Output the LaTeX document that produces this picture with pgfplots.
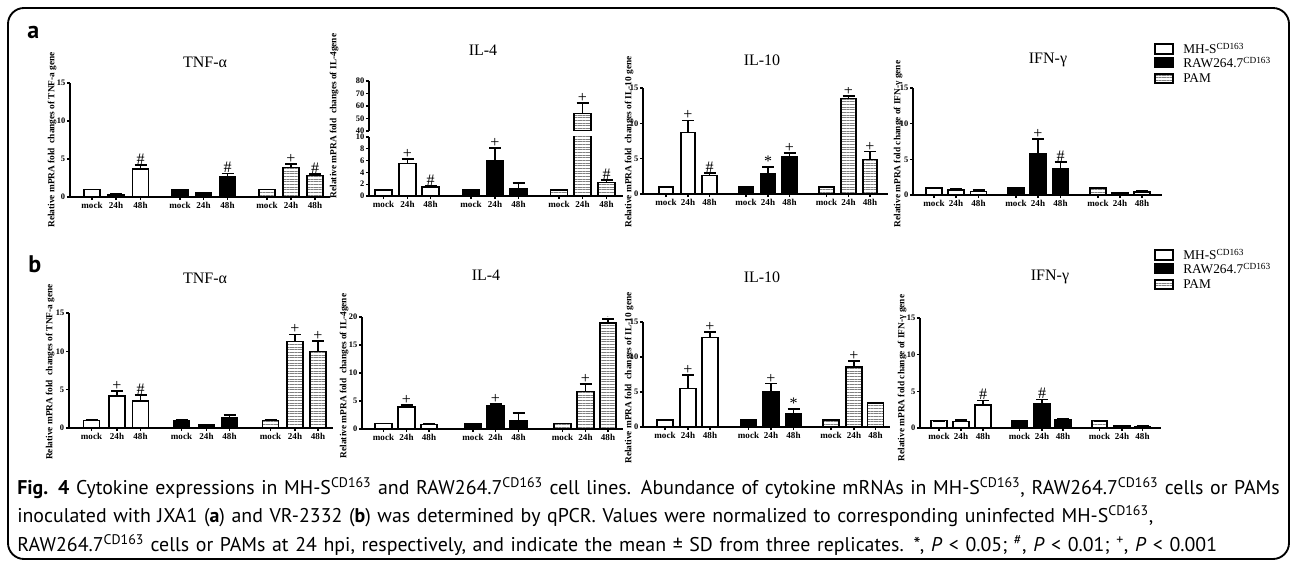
\documentclass[border=0pt]{standalone}
\usepackage{fontspec}
\setmainfont{Liberation Serif}
\newfontfamily\capfont{PT Sans}
\usepackage{pgfplots}
\pgfplotsset{compat=1.18}
\usetikzlibrary{patterns.meta}

% one pixel of the reference = 0.75pt
\pgfplotsset{
  place/.style 2 args={at={({#1*0.75pt},{(563-#2)*0.75pt})}, anchor=south west},
  cell/.style={
    scale only axis, enlargelimits=false, xmin=0, ymin=0,
    axis x line*=bottom, axis y line*=left,
    axis line style={line width=1.1pt, -},
    tick align=outside, major tick length=2.4pt,
    tick style={line width=0.9pt, black},
    clip marker paths=true,
    xticklabels={mock,24h,48h,mock,24h,48h,mock,24h,48h},
    xticklabel style={font=\bfseries\fontsize{6.8}{7}\selectfont, inner sep=1pt},
    yticklabel style={font=\bfseries\fontsize{6.3}{7}\selectfont, inner sep=1pt},
    /pgf/number format/assume math mode=true,
  },
  bar/.style={ybar, bar shift=0pt, draw=black, line width=1.2pt,
    error bars/y dir=plus, error bars/y explicit,
    error bars/error mark=|,
    error bars/error bar style={line width=1.3pt, black, solid},
    error bars/error mark options={line width=1.3pt, black, mark size=4.5pt}},
  mh/.style={fill=white, bar},
  raw/.style={fill=black, bar},
  pam/.style={pattern={Lines[angle=0,distance=2pt,line width=0.55pt]}, pattern color=gray, bar},
  ann/.style={draw=none, mark=none, nodes near coords={#1}, nodes near coords align=above,
    every node near coord/.append style={font=\fontsize{12}{12}\selectfont, inner sep=0.2pt, text=black}},
}

\begin{document}
\begin{tikzpicture}
\useasboundingbox (0,0) rectangle (969.75pt,422.25pt);

% ---------------- panel a ----------------
\begin{axis}[cell, place={70}{197}, width=195pt, height=85.5pt, xmax=260, ymax=15,
  ytick={0,5,10,15}, xtick={22,46,70.5,110,133.5,157.5,197,221,245}, bar width=16]
\addplot[mh]  coordinates {(22,1) +- (0,0) (46,0.3) +- (0,0.05) (70.5,3.65) +- (0,0.6)};
\addplot[raw] coordinates {(110,1) +- (0,0) (133.5,0.5) +- (0,0.05) (157.5,2.6) +- (0,0.5)};
\addplot[pam] coordinates {(197,1) +- (0,0) (221,3.9) +- (0,0.45) (245,2.85) +- (0,0.2)};
\addplot[ann=\#] coordinates {(70.5,4.25) (157.5,3.1) (245,3.05)};
\addplot[ann=+] coordinates {(221,4.35)};
\end{axis}

% IL-4 with a broken y axis: 0-10 below, 40-80 above
\begin{axis}[cell, place={369}{196}, width=190.5pt, height=44.25pt, xmax=254, ymax=10,
  ytick={0,2,4,6,8,10}, xtick={14.5,38.5,61.5,102,126,149.5,190,213.5,237.5}, bar width=17]
\addplot[mh]  coordinates {(14.5,1) +- (0,0) (38.5,5.5) +- (0,0.8) (61.5,1.5) +- (0,0.2)};
\addplot[raw] coordinates {(102,1) +- (0,0) (126,5.9) +- (0,2.2) (149.5,1.25) +- (0,0.9)};
\addplot[pam] coordinates {(190,1) +- (0,0) (213.5,54.1) (237.5,2.3) +- (0,0.45)};
\addplot[ann=+] coordinates {(38.5,6.3) (126,8.1)};
\addplot[ann=\#] coordinates {(61.5,1.7) (237.5,2.75)};
\end{axis}
\begin{axis}[cell, place={369}{131}, width=190.5pt, height=37.5pt, xmax=254, ymin=40, ymax=80,
  axis x line=none, ytick={40,50,60,70,80}, xtick=\empty, bar width=17]
\addplot[pam] coordinates {(213.5,54.1) +- (0,8.1)};
\addplot[ann=+] coordinates {(213.5,62.2)};
\end{axis}

\begin{axis}[cell, place={643}{194}, width=183.75pt, height=79.5pt, xmax=245, ymax=15,
  ytick={0,5,10,15}, xtick={23,45,66.5,103,125,146.5,183.5,205.5,227}, bar width=14.5]
\addplot[mh]  coordinates {(23,1) +- (0,0) (45,8.7) +- (0,1.7) (66.5,2.6) +- (0,0.4)};
\addplot[raw] coordinates {(103,1) +- (0,0) (125,2.85) +- (0,0.95) (146.5,5.2) +- (0,0.6)};
\addplot[pam] coordinates {(183.5,1) +- (0,0) (205.5,13.5) +- (0,0.4) (227,4.9) +- (0,1.1)};
\addplot[ann=+] coordinates {(45,10.4) (146.5,5.8) (205.5,13.9) (227,6.0)};
\addplot[ann=\#] coordinates {(66.5,3.0)};
\addplot[ann=*] coordinates {(125,3.8)};
\end{axis}

\begin{axis}[cell, place={913}{195}, width=186.75pt, height=80.25pt, xmax=249, ymax=15,
  ytick={0,5,10,15}, xtick={21,43,65.5,103,125,147.5,185,207,229}, bar width=16]
\addplot[mh]  coordinates {(21,1) +- (0,0) (43,0.7) +- (0,0.1) (65.5,0.5) +- (0,0.15)};
\addplot[raw] coordinates {(103,1) +- (0,0) (125,5.8) +- (0,2.0) (147.5,3.7) +- (0,0.95)};
\addplot[pam] coordinates {(185,1) +- (0,0) (207,0.25) +- (0,0.05) (229,0.45) +- (0,0.1)};
\addplot[ann=+] coordinates {(125,7.8)};
\addplot[ann=\#] coordinates {(147.5,4.65)};
\end{axis}

% ---------------- panel b ----------------
\begin{axis}[cell, place={69}{428}, width=198pt, height=86.25pt, xmax=264, ymax=15,
  ytick={0,5,10,15}, xtick={22.5,48,71.5,112.5,137.5,160.5,201.5,226,249}, bar width=16]
\addplot[mh]  coordinates {(22.5,1) +- (0,0) (48,4.2) +- (0,0.65) (71.5,3.5) +- (0,0.85)};
\addplot[raw] coordinates {(112.5,1) +- (0,0) (137.5,0.4) +- (0,0.05) (160.5,1.3) +- (0,0.35)};
\addplot[pam] coordinates {(201.5,1) +- (0,0) (226,11.3) +- (0,0.9) (249,10.0) +- (0,1.3)};
\addplot[ann=+] coordinates {(48,4.85) (226,12.2) (249,11.3)};
\addplot[ann=\#] coordinates {(71.5,4.35)};
\end{axis}

\begin{axis}[cell, place={362}{429}, width=195.75pt, height=84pt, xmax=261, ymax=20,
  ytick={0,5,10,15,20}, xtick={21.5,44.5,67,111,133.5,156.5,200.5,223.5,246}, bar width=16.5]
\addplot[mh]  coordinates {(21.5,1) +- (0,0) (44.5,3.9) +- (0,0.4) (67,0.8) +- (0,0.2)};
\addplot[raw] coordinates {(111,1) +- (0,0) (133.5,4.1) +- (0,0.4) (156.5,1.5) +- (0,1.3)};
\addplot[pam] coordinates {(200.5,1) +- (0,0) (223.5,6.7) +- (0,1.4) (246,18.9) +- (0,0.8)};
\addplot[ann=+] coordinates {(44.5,4.3) (133.5,4.5) (223.5,8.1) (246,19.7)};
\end{axis}

\begin{axis}[cell, place={643}{427}, width=185.25pt, height=78.75pt, xmax=247, ymax=15,
  ytick={0,5,10,15}, xtick={22,45,67,105.5,128,150.5,188,211,232.5}, bar width=16]
\addplot[mh]  coordinates {(22,1) +- (0,0) (45,5.5) +- (0,1.9) (67,12.8) +- (0,0.8)};
\addplot[raw] coordinates {(105.5,1) +- (0,0) (128,5.0) +- (0,1.2) (150.5,1.95) +- (0,0.6)};
\addplot[pam] coordinates {(188,1) +- (0,0) (211,8.6) +- (0,0.85) (232.5,3.4) +- (0,0.1)};
\addplot[ann=+] coordinates {(45,7.4) (67,13.6) (128,6.2) (211,9.45)};
\addplot[ann=*] coordinates {(150.5,2.55)};
\end{axis}

\begin{axis}[cell, place={920}{428}, width=180.75pt, height=82.5pt, xmax=241, ymax=15,
  ytick={0,5,10,15}, xtick={19,41,63,99.5,122,143,179.5,202,222.5}, bar width=15.5]
\addplot[mh]  coordinates {(19,1) +- (0,0) (41,0.9) +- (0,0.15) (63,3.15) +- (0,0.6)};
\addplot[raw] coordinates {(99.5,1) +- (0,0) (122,3.3) +- (0,0.6) (143,1.1) +- (0,0.1)};
\addplot[pam] coordinates {(179.5,1) +- (0,0) (202,0.25) +- (0,0.03) (222.5,0.2) +- (0,0.03)};
\addplot[ann=\#] coordinates {(63,3.75) (122,3.9)};
\end{axis}

% ---------------- text, legends, frame (reference pixels, y downwards) ----------------
\begin{scope}[x=0.75pt, y=-0.75pt, yshift=422.25pt]
\draw[line width=1.4pt, rounded corners=12pt] (8,8) rectangle (1289,559);

\node[anchor=base west, inner sep=0, font=\capfont\bfseries\fontsize{18}{18}\selectfont] at (27,39) {a};
\node[anchor=base west, inner sep=0, font=\capfont\bfseries\fontsize{18}{18}\selectfont] at (28,273) {b};

\tikzset{ttl/.style={font=\fontsize{12}{12}\selectfont, inner sep=0},
         ylab/.style={rotate=90, font=\bfseries\fontsize{7}{7}\selectfont, inner sep=0}}
\node[ttl] at (205,62) {TNF-α};
\node[ttl] at (483,50) {IL-4};
\node[ttl] at (762,60) {IL-10};
\node[ttl] at (1048,60) {IFN-γ};
\node[ttl] at (205,278) {TNF-α};
\node[ttl] at (486,275) {IL-4};
\node[ttl] at (762,277) {IL-10};
\node[ttl] at (1050,277) {IFN-γ};

\node[ylab] at (52,140) {Relative mPRA fold\ \ changes of TNF-a gene};
\node[ylab] at (334,116) {Relative mPRA fold\ \ changes of IL-4gene};
\node[ylab] at (629,142) {Relative mPRA fold\ \ changes of IL-10 gene};
\node[ylab] at (898,144) {Relative mPRA fold change of IFN-γ gene};
\node[ylab] at (50,372) {Relative mPRA fold\ \ changes of TNF-a gene};
\node[ylab] at (344,376) {Relative mPRA fold\ \ changes of IL-4gene};
\node[ylab] at (629,378) {Relative mPRA fold\ \ changes of IL-10 gene};
\node[ylab] at (902,378) {Relative mPRA fold change of IFN-γ gene};

\tikzset{leg/.style={anchor=base west, inner sep=0, font=\fontsize{10}{10}\selectfont}}
\foreach \t in {0,206} {
  \draw[line width=1.3pt, fill=white] (1155,44+\t) rectangle (1173,54+\t);
  \draw[line width=1.3pt, fill=black] (1155,58+\t) rectangle (1173,67+\t);
  \draw[line width=1.3pt, pattern={Lines[angle=0,distance=2pt,line width=0.55pt]}, pattern color=gray] (1155,74+\t) rectangle (1173,83+\t);
  \node[leg] at (1183,54+\t) {MH-S\textsuperscript{CD163}};
  \node[leg] at (1183,68+\t) {RAW264.7\textsuperscript{CD163}};
  \node[leg] at (1183,83+\t) {PAM};
}

\node[anchor=north west, inner sep=0, text width=1300*0.75pt, align=left,
      font=\capfont\fontsize{14.9}{21.4}\selectfont] at (17,477)
{\textbf{Fig. 4} Cytokine expressions in MH-S\textsuperscript{CD163} and RAW264.7\textsuperscript{CD163} cell lines. Abundance of cytokine mRNAs in MH-S\textsuperscript{CD163}, RAW264.7\textsuperscript{CD163} cells or PAMs\\
inoculated with JXA1 (\textbf{a}) and VR-2332 (\textbf{b}) was determined by qPCR. Values were normalized to corresponding uninfected MH-S\textsuperscript{CD163},\\
RAW264.7\textsuperscript{CD163} cells or PAMs at 24 hpi, respectively, and indicate the mean ± SD from three replicates. *, \textit{P} < 0.05; \textsuperscript{\#}, \textit{P} < 0.01; \textsuperscript{+}, \textit{P} < 0.001};
\end{scope}
\end{tikzpicture}
\end{document}
